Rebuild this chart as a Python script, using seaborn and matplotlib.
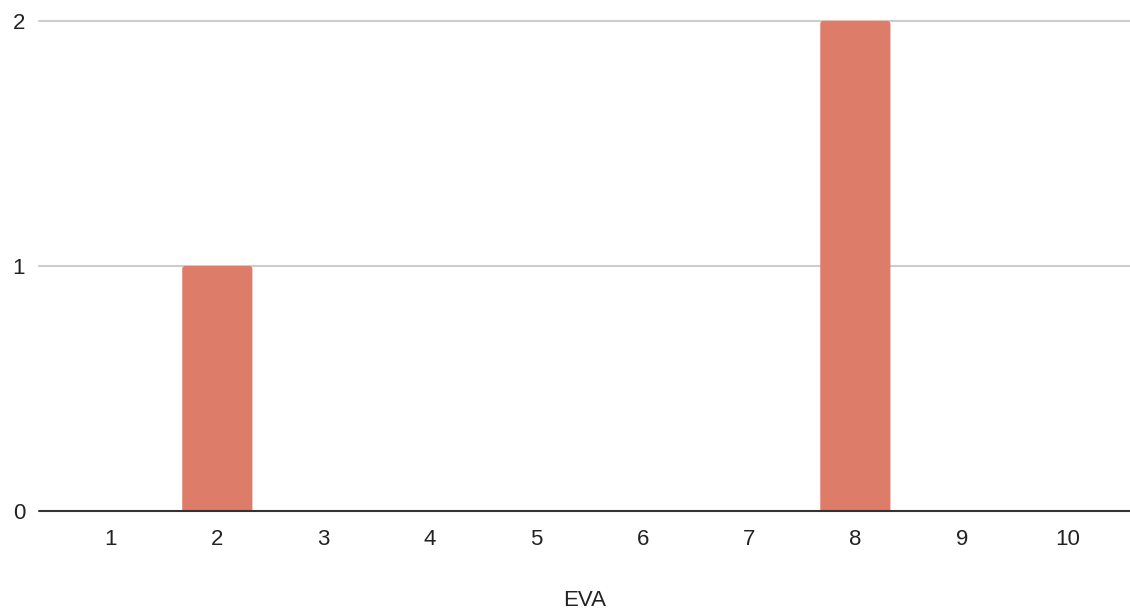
import matplotlib
matplotlib.use("Agg")
import matplotlib.pyplot as plt
from matplotlib.patches import FancyBboxPatch
import seaborn as sns
import pandas as pd

# Score distribution for EVA
scores = ["1", "2", "3", "4", "5", "6", "7", "8", "9", "10"]
counts = [0, 1, 0, 0, 0, 0, 0, 2, 0, 0]
y_ticks = [0, 1, 2]

bar_color = "#DE7C6A"

sns.set_theme(style="white")
plt.rcParams["font.family"] = ["Liberation Sans", "DejaVu Sans"]

df = pd.DataFrame({"score": scores, "count": counts})

fig = plt.figure(figsize=(11.30, 6.16), dpi=100)
ax = fig.add_axes([39 / 1130, 105 / 616, 1 - 39 / 1130, 490 / 616])

sns.barplot(data=df, x="score", y="count", order=scores, color=bar_color,
            saturation=1, width=0.66, linewidth=0, ax=ax, zorder=3)

ax.set_ylim(0, 2)
ax.set_xlim(-0.677, 9.583)

# soften the top corners of each bar
px_x = 1130 * (1 - 39 / 1130) / (9.583 + 0.677)
px_y = 490 / 2
r = 3 / px_x
for bar in list(ax.patches):
    h = bar.get_height()
    if h <= 0:
        bar.remove()
        continue
    x0, w = bar.get_x(), bar.get_width()
    rounded = FancyBboxPatch((x0, -0.05), w, h + 0.05,
                             boxstyle=f"round,pad=0,rounding_size={r}",
                             mutation_aspect=px_x / px_y,
                             facecolor=bar.get_facecolor(), linewidth=0,
                             zorder=3)
    bar.remove()
    ax.add_patch(rounded)

ax.set_yticks(y_ticks)
ax.set_yticklabels([str(t) for t in y_ticks])

# light horizontal gridlines, darker baseline
for t in y_ticks[1:]:
    ax.axhline(t, color="#cccccc", linewidth=1.5, zorder=1, clip_on=False)
ax.axhline(0, color="#333333", linewidth=1.5, zorder=4, clip_on=False)

for s in ax.spines.values():
    s.set_visible(False)

ax.tick_params(axis="both", length=0, labelsize=16, colors="#222222")
ax.tick_params(axis="x", pad=13)
ax.tick_params(axis="y", pad=10)

ax.set_ylabel("")
ax.set_xlabel("EVA", fontsize=16, color="#222222", labelpad=29)

fig.savefig("out.png", dpi=100)
